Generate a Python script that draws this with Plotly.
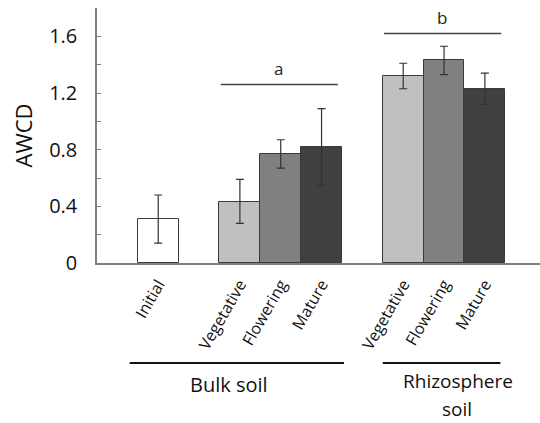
import plotly.graph_objects as go

# Data
labels = ["Initial", "Vegetative", "Flowering", "Mature", "Vegetative", "Flowering", "Mature"]
positions = [1, 3, 4, 5, 7, 8, 9]
awcd = [0.31, 0.43, 0.77, 0.82, 1.32, 1.43, 1.23]
err_plus = [0.17, 0.16, 0.10, 0.27, 0.09, 0.10, 0.11]
err_minus = [0.17, 0.15, 0.10, 0.27, 0.09, 0.10, 0.11]
bar_colors = ["#ffffff", "#c0c0c0", "#808080", "#404040", "#c0c0c0", "#808080", "#404040"]

group_lines = [["Bulk soil"], ["Rhizosphere", "soil"]]
group_first = [1, 7]
group_last = [5, 9]

sig_letters = ["a", "b"]
sig_first = [3, 7]
sig_last = [5, 9]
sig_level = [1.26, 1.62]

fig = go.Figure()
fig.add_trace(go.Bar(
    x=positions, y=awcd, width=1.0,
    marker=dict(color=bar_colors, line=dict(color="#3a3a3a", width=1)),
    error_y=dict(type="data", array=err_plus, arrayminus=err_minus,
                 color="#333333", thickness=1.2, width=4),
    showlegend=False,
))

shapes = []
annotations = []
for letter, a, b, lvl in zip(sig_letters, sig_first, sig_last, sig_level):
    shapes.append(dict(type="line", xref="x", yref="y", x0=a - 0.47, x1=b + 0.4,
                       y0=lvl, y1=lvl, line=dict(color="#444444", width=1.5)))
    annotations.append(dict(x=(a + b) / 2 - 0.05, y=lvl, xref="x", yref="y", text=letter,
                            showarrow=False, yanchor="bottom", yshift=3,
                            font=dict(size=17, color="#222222")))

text_shift = [-0.2, 0.4]
for lines, a, b, s in zip(group_lines, group_first, group_last, text_shift):
    x0 = a - 0.7 if a == 1 else a - 0.5
    x1 = b + 0.55 if b == 5 else b + 0.38
    shapes.append(dict(type="line", xref="x", yref="paper", x0=x0, x1=x1,
                       y0=-0.392, y1=-0.392, line=dict(color="#111111", width=2)))
    for i, t in enumerate(lines):
        annotations.append(dict(x=(x0 + x1) / 2 + s - 0.03 * i,
                                y=(-0.475 if len(lines) == 1 else -0.4647) - 0.106 * i,
                                xref="x", yref="paper", text=t,
                                showarrow=False, yanchor="middle", align="center",
                                borderpad=0,
                                font=dict(size=20 if len(lines) == 1 else 19,
                                          color="#111111")))

fig.update_layout(
    width=540, height=423,
    margin=dict(l=97, r=0, t=8, b=160),
    paper_bgcolor="white", plot_bgcolor="white",
    font=dict(family="Open Sans, Noto Sans, sans-serif", color="#111111"),
    bargap=0,
    shapes=shapes, annotations=annotations,
    xaxis=dict(range=[-0.5, 10.35], tickmode="array", tickvals=positions, ticktext=labels,
               tickangle=-60, tickfont=dict(size=16), showline=True, linecolor="#7f7f7f",
               linewidth=1.5, ticks="", showgrid=False, zeroline=False,
               ticklabelstandoff=4),
    yaxis=dict(range=[0, 1.8], tickvals=[0, 0.4, 0.8, 1.2, 1.6],
               ticktext=["0", "0.4", "0.8", "1.2", "1.6"],
               ticks="inside", ticklen=4, tickcolor="#7f7f7f",
               minor=dict(ticks="inside", dtick=0.2, tick0=0, ticklen=4, tickcolor="#7f7f7f"),
               tickfont=dict(size=20), ticklabelstandoff=14,
               showline=True, linecolor="#7f7f7f", linewidth=1.5, showgrid=False,
               zeroline=False,
               title=dict(text="AWCD", font=dict(size=22), standoff=10)),
)

fig.write_html("out.html")
